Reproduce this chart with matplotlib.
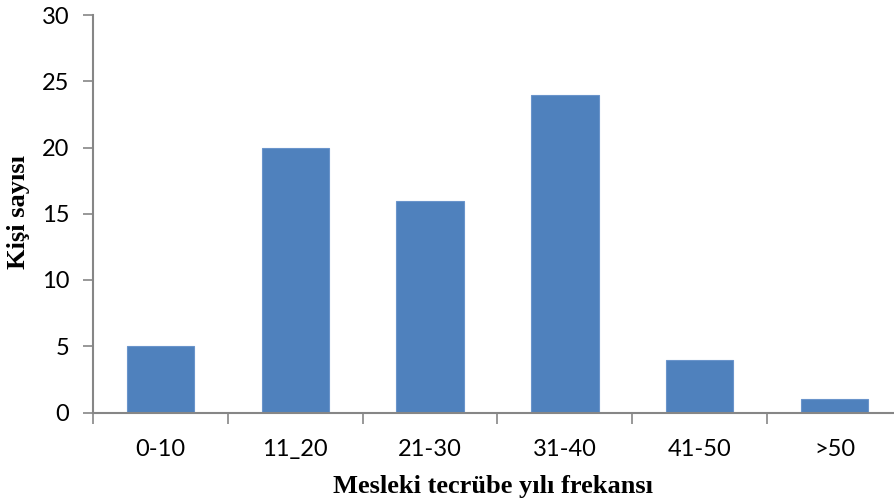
import matplotlib
matplotlib.use("Agg")
import matplotlib.pyplot as plt
import numpy as np

categories = ["0-10", "11_20", "21-30", "31-40", "41-50", ">50"]
values = [5, 20, 16, 24, 4, 1]
yticks = [0, 5, 10, 15, 20, 25, 30]

W, H = 895, 504
fig = plt.figure(figsize=(W / 100, H / 100), dpi=100)
left, right, bottom, top = 93, 902, 412.5, 15
ax = fig.add_axes([left / W, 1 - bottom / H, (right - left) / W, (bottom - top) / H])

x = np.arange(len(categories))
ax.bar(x, values, width=0.5, color="#4F81BD", edgecolor="#6A94CB", linewidth=0.8, zorder=2)

ax.set_xlim(-0.5, len(categories) - 0.5)
ax.set_ylim(0, 30)
ax.set_yticks(yticks)
ax.set_yticklabels([str(v) for v in yticks])

ax.set_xticks(x)
ax.set_xticklabels(categories)
ax.set_xticks(np.arange(len(categories) + 1) - 0.5, minor=True)
ax.tick_params(axis="x", which="major", length=0, pad=19)
ax.tick_params(axis="x", which="minor", length=8, width=1.2, color="#868686")
ax.tick_params(axis="y", length=7, width=1.2, color="#868686", pad=10)

for lab in ax.get_xticklabels() + ax.get_yticklabels():
    lab.set_fontfamily("Lato")
    lab.set_fontsize(17)

for s in ["top", "right"]:
    ax.spines[s].set_visible(False)
for s in ["left", "bottom"]:
    ax.spines[s].set_color("#868686")
    ax.spines[s].set_linewidth(1.5)

fig.text(493 / W, 1 - 486 / H, "Mesleki tecrübe yılı frekansı", ha="center", va="center",
         fontfamily="Liberation Serif", fontweight="bold", fontsize=19)
fig.text(19 / W, 1 - 212 / H, "Kişi sayısı", ha="center", va="center", rotation=90,
         fontfamily="Liberation Serif", fontweight="bold", fontsize=19)

fig.savefig("out.png", dpi=100)
